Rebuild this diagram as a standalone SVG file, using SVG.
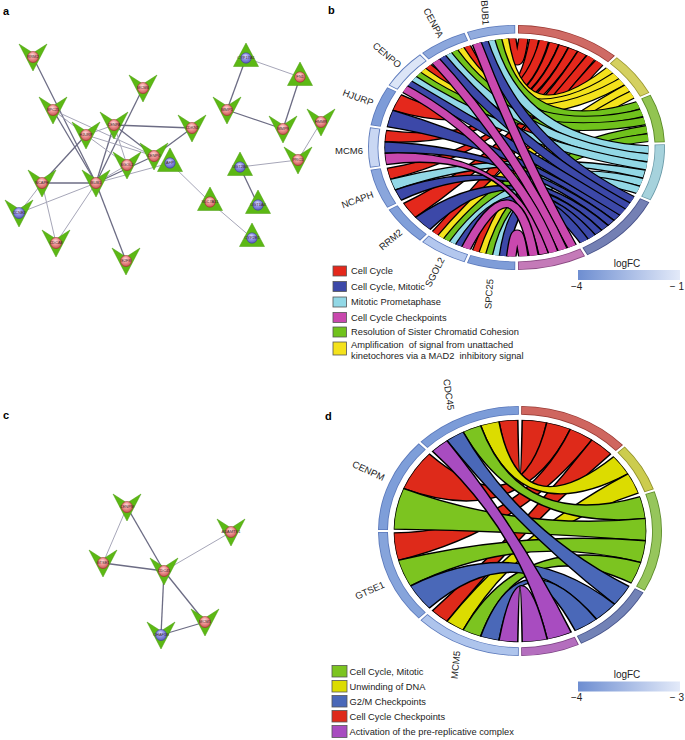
<svg xmlns="http://www.w3.org/2000/svg" width="685" height="740" viewBox="0 0 685 740">
<style>
text{font-family:"Liberation Sans",Arial,sans-serif;fill:#222}
.pl{font-weight:bold;font-size:11px;fill:#000}
.gl{font-size:9.5px}
.lg{font-size:9.3px;white-space:pre}
.tk{font-size:10px}
.nl{font-size:4px;text-anchor:middle;fill:#402828}
.e1{stroke:#6c6c84;stroke-width:1.3;fill:none}
.e2{stroke:#a6a6b8;stroke-width:1;fill:none}
.k{fill:none;stroke:#000;stroke-width:7.2}
.s{fill:none;stroke:currentColor;stroke-width:5.4}
.f{fill:currentColor;stroke:#000;stroke-width:1.1}
.ro{fill:none;stroke-width:7}
.rf{fill:none;stroke-width:5.8}
.r{color:#e4281c}.y{color:#f4e21c}.g{color:#70c21c}.c{color:#92d8e6}.b{color:#3c48a8}.m{color:#c948ae}
.dr{color:#de2a1a}.dy{color:#dcdc00}.dg{color:#7cc420}.db{color:#4a68b8}.dm{color:#a84cc0}
.sq{stroke:#555;stroke-width:0.8}
.pk{fill:url(#gp);stroke:#9b2d2d;stroke-width:0.6}
.bl{fill:url(#gb);stroke:#3e3e96;stroke-width:0.6}
</style>
<defs>
<radialGradient id="gp" cx="0.45" cy="0.35" r="0.7"><stop offset="0" stop-color="#ffe2e2"/><stop offset="0.4" stop-color="#f29a9a"/><stop offset="1" stop-color="#c44c4c"/></radialGradient>
<radialGradient id="gb" cx="0.45" cy="0.35" r="0.7"><stop offset="0" stop-color="#e4e4ff"/><stop offset="0.4" stop-color="#9494ea"/><stop offset="1" stop-color="#5656b6"/></radialGradient>
<linearGradient id="lf" x1="0" x2="1" y1="0" y2="0"><stop offset="0" stop-color="#6e8ed1"/><stop offset="1" stop-color="#e3eaf9"/></linearGradient>
<polygon id="V" points="-14,-13 0,-4 14,-13 0,14" fill="#5cb814" stroke="#4a9c0e" stroke-width="0.5"/>
<polygon id="T" points="0,-15 12.5,8.5 -12.5,8.5" fill="#5cb814" stroke="#4a9c0e" stroke-width="0.5"/>
<clipPath id="cc"><circle r="89"/></clipPath>
</defs>

<text class="pl" x="3" y="15">a</text>
<text class="pl" x="328" y="14">b</text>
<text class="pl" x="3" y="419">c</text>
<text class="pl" x="325" y="420">d</text>

<g id="connectors">
<line class="e1" x1="33" y1="57" x2="96" y2="183"/>
<line class="e1" x1="143" y1="88" x2="96" y2="183"/>
<line class="e2" x1="53" y1="110" x2="86" y2="135"/>
<line class="e1" x1="53" y1="110" x2="96" y2="183"/>
<line class="e2" x1="53" y1="110" x2="154" y2="156"/>
<line class="e2" x1="114" y1="125" x2="86" y2="135"/>
<line class="e1" x1="114" y1="125" x2="96" y2="183"/>
<line class="e1" x1="114" y1="125" x2="154" y2="156"/>
<line class="e2" x1="114" y1="125" x2="127" y2="165"/>
<line class="e1" x1="114" y1="125" x2="192" y2="128"/>
<line class="e1" x1="86" y1="135" x2="42" y2="183"/>
<line class="e2" x1="86" y1="135" x2="154" y2="156"/>
<line class="e2" x1="86" y1="135" x2="127" y2="165"/>
<line class="e1" x1="42" y1="183" x2="96" y2="183"/>
<line class="e2" x1="42" y1="183" x2="19" y2="213"/>
<line class="e2" x1="42" y1="183" x2="56" y2="243"/>
<line class="e2" x1="96" y1="183" x2="19" y2="213"/>
<line class="e2" x1="96" y1="183" x2="56" y2="243"/>
<line class="e1" x1="96" y1="183" x2="126" y2="261"/>
<line class="e1" x1="96" y1="183" x2="154" y2="156"/>
<line class="e2" x1="96" y1="183" x2="127" y2="165"/>
<line class="e2" x1="96" y1="183" x2="170" y2="163"/>
<line class="e1" x1="154" y1="156" x2="192" y2="128"/>
<line class="e2" x1="170" y1="163" x2="210" y2="202"/>
<line class="e2" x1="210" y1="202" x2="252" y2="238"/>
<line class="e2" x1="246" y1="58" x2="300" y2="77"/>
<line class="e1" x1="246" y1="58" x2="227" y2="110"/>
<line class="e1" x1="227" y1="110" x2="283" y2="129"/>
<line class="e1" x1="300" y1="77" x2="283" y2="129"/>
<line class="e2" x1="321" y1="122" x2="298" y2="160"/>
<line class="e2" x1="298" y1="160" x2="240" y2="167"/>
<line class="e1" x1="240" y1="167" x2="258" y2="205"/>
<line class="e2" x1="127" y1="507" x2="103" y2="563"/>
<line class="e1" x1="127" y1="507" x2="164" y2="571"/>
<line class="e1" x1="103" y1="563" x2="164" y2="571"/>
<line class="e2" x1="164" y1="571" x2="231" y2="532"/>
<line class="e1" x1="164" y1="571" x2="161" y2="635"/>
<line class="e1" x1="164" y1="571" x2="205" y2="622" stroke-width="2"/>
<line class="e1" x1="161" y1="635" x2="205" y2="622"/>
</g>

<g id="a-RRM2" transform="translate(33,57)"><use href="#V"/><circle r="5.5" class="pk"/><text class="nl" y="1.4">RRM2</text></g>
<g id="a-MCM6" transform="translate(143,88)"><use href="#V"/><circle r="5.5" class="pk"/><text class="nl" y="1.4">MCM6</text></g>
<g id="a-SPC25" transform="translate(53,110)"><use href="#V"/><circle r="5.5" class="pk"/><text class="nl" y="1.4">SPC25</text></g>
<g id="a-CENPA" transform="translate(114,125)"><use href="#V"/><circle r="5.5" class="pk"/><text class="nl" y="1.4">CENPA</text></g>
<g id="a-HJURP" transform="translate(86,135)"><use href="#V"/><circle r="5.5" class="pk"/><text class="nl" y="1.4">HJURP</text></g>
<g id="a-CENPO" transform="translate(154,156)"><use href="#V"/><circle r="5.5" class="pk"/><text class="nl" y="1.4">CENPO</text></g>
<g id="a-SGOL2" transform="translate(127,165)"><use href="#V"/><circle r="5.5" class="pk"/><text class="nl" y="1.4">SGOL2</text></g>
<g id="a-AFP" transform="translate(170,163)"><use href="#T"/><circle r="5.2" class="bl"/><text class="nl" y="1.4">AFP</text></g>
<g id="a-NCAPH" transform="translate(42,183)"><use href="#V"/><circle r="5.5" class="pk"/><text class="nl" y="1.4">NCAPH</text></g>
<g id="a-BUB1" transform="translate(96,183)"><use href="#V"/><circle r="5.5" class="pk"/><text class="nl" y="1.4">BUB1</text></g>
<g id="a-CCNE2" transform="translate(19,213)"><use href="#V"/><circle r="5.5" class="bl"/><text class="nl" y="1.4">CCNE2</text></g>
<g id="a-CDCA8" transform="translate(56,243)"><use href="#V"/><circle r="5.5" class="pk"/><text class="nl" y="1.4">CDCA8</text></g>
<g id="a-E2F8" transform="translate(126,261)"><use href="#V"/><circle r="5.5" class="pk"/><text class="nl" y="1.4">E2F8</text></g>
<g id="a-CYP17A1" transform="translate(246,58)"><use href="#T"/><circle r="5.2" class="bl"/><text class="nl" y="1.4">CYP17A1</text></g>
<g id="a-FN1" transform="translate(300,77)"><use href="#T"/><circle r="5.2" class="pk"/><text class="nl" y="1.4">FN1</text></g>
<g id="a-MMP1" transform="translate(227,110)"><use href="#V"/><circle r="5.5" class="pk"/><text class="nl" y="1.4">MMP1</text></g>
<g id="a-CDKN3" transform="translate(192,128)"><use href="#V"/><circle r="5.5" class="pk"/><text class="nl" y="1.4">CDKN3</text></g>
<g id="a-MMP9" transform="translate(283,129)"><use href="#V"/><circle r="5.5" class="pk"/><text class="nl" y="1.4">MMP9</text></g>
<g id="a-HMMR" transform="translate(321,122)"><use href="#V"/><circle r="5.5" class="pk"/><text class="nl" y="1.4">HMMR</text></g>
<g id="a-PRC1" transform="translate(298,160)"><use href="#V"/><circle r="5.5" class="pk"/><text class="nl" y="1.4">PRC1</text></g>
<g id="a-UGT2B4" transform="translate(240,167)"><use href="#T"/><circle r="5.2" class="bl"/><text class="nl" y="1.4">UGT2B4</text></g>
<g id="a-SLC7A11" transform="translate(210,202)"><use href="#T"/><circle r="5.2" class="pk"/><text class="nl" y="1.4">SLC7A11</text></g>
<g id="a-UGT1A4" transform="translate(258,205)"><use href="#T"/><circle r="5.2" class="bl"/><text class="nl" y="1.4">UGT1A4</text></g>
<g id="a-CYP2E1" transform="translate(252,238)"><use href="#T"/><circle r="5.2" class="bl"/><text class="nl" y="1.4">CYP2E1</text></g>

<g id="c-CENPM" transform="translate(127,507)"><use href="#V"/><circle r="5.5" class="pk"/><text class="nl" y="1.4">CENPM</text></g>
<g id="c-GTSE1" transform="translate(103,563)"><use href="#V"/><circle r="5.5" class="pk"/><text class="nl" y="1.4">GTSE1</text></g>
<g id="c-CDC45" transform="translate(164,571)"><use href="#V"/><circle r="5.5" class="pk"/><text class="nl" y="1.4">CDC45</text></g>
<g id="c-ADAMTS1" transform="translate(231,532)"><use href="#V"/><circle r="5.5" class="pk"/><text class="nl" y="1.4">ADAMTS1</text></g>
<g id="c-CHAF1B" transform="translate(161,635)"><use href="#V"/><circle r="5.5" class="bl"/><text class="nl" y="1.4">CHAF1B</text></g>
<g id="c-MCM5" transform="translate(205,622)"><use href="#V"/><circle r="5.5" class="pk"/><text class="nl" y="1.4">MCM5</text></g>

<g id="chord-b" transform="translate(516.5,147.5) scale(1.485,1.225)">
<g id="ring-b">
<circle r="96.5" class="ro" stroke="#9a3a34" stroke-dasharray="68.89 999" transform="rotate(-89.4)"/>
<circle r="96.5" class="rf" stroke="#cf6a64" stroke-dasharray="67.71 999" transform="rotate(-89.05)"/>
<circle r="96.5" class="ro" stroke="#9a9630" stroke-dasharray="35.37 999" transform="rotate(-47.5)"/>
<circle r="96.5" class="rf" stroke="#d4d060" stroke-dasharray="34.19 999" transform="rotate(-47.15)"/>
<circle r="96.5" class="ro" stroke="#5a8a26" stroke-dasharray="38.74 999" transform="rotate(-25.5)"/>
<circle r="96.5" class="rf" stroke="#92c452" stroke-dasharray="37.56 999" transform="rotate(-25.15)"/>
<circle r="96.5" class="ro" stroke="#6a9aa8" stroke-dasharray="45.48 999" transform="rotate(-1.5)"/>
<circle r="96.5" class="rf" stroke="#a6d2dc" stroke-dasharray="44.3 999" transform="rotate(-1.15)"/>
<circle r="96.5" class="ro" stroke="#48528a" stroke-dasharray="58.95 999" transform="rotate(26.5)"/>
<circle r="96.5" class="rf" stroke="#7480b4" stroke-dasharray="57.77 999" transform="rotate(26.85)"/>
<circle r="96.5" class="ro" stroke="#8a4a82" stroke-dasharray="45.31 999" transform="rotate(62.5)"/>
<circle r="96.5" class="rf" stroke="#c47ab8" stroke-dasharray="44.13 999" transform="rotate(62.85)"/>
<g stroke-dasharray="32 999" class="ro" stroke="#5b79bb">
<circle r="96.5" transform="rotate(90.5)"/><circle r="96.5" transform="rotate(110.5)"/><circle r="96.5" transform="rotate(130.5)"/><circle r="96.5" transform="rotate(150.5)"/><circle r="96.5" transform="rotate(170.5)"/><circle r="96.5" transform="rotate(190.5)"/><circle r="96.5" transform="rotate(210.5)"/><circle r="96.5" transform="rotate(230.5)"/><circle r="96.5" transform="rotate(250.5)"/>
</g>
<g stroke-dasharray="30.82 999" class="rf">
<circle r="96.5" stroke="#7f9dd8" transform="rotate(90.85)"/>
<circle r="96.5" stroke="#b3c7ee" transform="rotate(110.85)"/>
<circle r="96.5" stroke="#819fd9" transform="rotate(130.85)"/>
<circle r="96.5" stroke="#8aa6dc" transform="rotate(150.85)"/>
<circle r="96.5" stroke="#c9d7f3" transform="rotate(170.85)"/>
<circle r="96.5" stroke="#7e9cd8" transform="rotate(190.85)"/>
<circle r="96.5" stroke="#dce5f7" transform="rotate(210.85)"/>
<circle r="96.5" stroke="#8ca7dc" transform="rotate(230.85)"/>
<circle r="96.5" stroke="#92acde" transform="rotate(250.85)"/>
</g>
</g>
<g clip-path="url(#cc)">
<path class="f r" d="M-83.63 -30.44A89 89 0 0 1 -77.84 -43.15Q0 0 22.13 -86.21A89 89 0 0 1 28.68 -84.25Q0 0 -83.63 -30.44Z"/>
<path class="f r" d="M-88.88 -4.66A89 89 0 0 1 -87.9 -13.92Q0 0 28.68 -84.25A89 89 0 0 1 35.06 -81.8Q0 0 -88.88 -4.66Z"/>
<path class="f r" d="M-85.11 26.02A89 89 0 0 1 -87.36 16.98Q0 0 35.06 -81.8A89 89 0 0 1 41.37 -78.8Q0 0 -85.11 26.02Z"/>
<path class="f r" d="M-68.17 57.21A89 89 0 0 1 -76.29 45.84Q0 0 41.37 -78.8A89 89 0 0 1 47.29 -75.39Q0 0 -68.17 57.21Z"/>
<g transform="rotate(0.35)"><path class="k" d="M-4.77 -95.88Q0 -45 4.77 -95.88"/><path class="s r" d="M-4.77 -95.88Q0 -45 4.77 -95.88"/></g>
<g transform="rotate(-7.4)"><path class="k" d="M-25.01 -92.69Q0 0 25.01 -92.69"/><path class="s r" d="M-25.01 -92.69Q0 0 25.01 -92.69"/></g>
<g transform="rotate(-15.2)"><path class="k" d="M-44.03 -85.31Q0 0 44.03 -85.31"/><path class="s r" d="M-44.03 -85.31Q0 0 44.03 -85.31"/></g>
<g transform="rotate(305.9)"><path class="k" d="M-95.96 -2.68Q0 0 95.96 -2.68"/><path class="s r" d="M-95.96 -2.68Q0 0 95.96 -2.68"/></g>
<g transform="rotate(118.15)"><path class="k" d="M-94.35 -17.74Q0 0 94.35 -17.74"/><path class="s r" d="M-94.35 -17.74Q0 0 94.35 -17.74"/></g>

<g transform="rotate(19.75)"><path class="k" d="M-40.95 -86.83Q0 0 40.95 -86.83"/><path class="s y" d="M-40.95 -86.83Q0 0 40.95 -86.83"/></g>
<g transform="rotate(11.75)"><path class="k" d="M-58.11 -76.42Q0 0 58.11 -76.42"/><path class="s y" d="M-58.11 -76.42Q0 0 58.11 -76.42"/></g>
<g transform="rotate(3.75)"><path class="k" d="M-72.73 -62.66Q0 0 72.73 -62.66"/><path class="s y" d="M-72.73 -62.66Q0 0 72.73 -62.66"/></g>
<g transform="rotate(135.75)"><path class="k" d="M-94.16 -18.73Q0 0 94.16 -18.73"/><path class="s y" d="M-94.16 -18.73Q0 0 94.16 -18.73"/></g>
<g transform="rotate(127.75)"><path class="k" d="M-88.21 -37.89Q0 0 88.21 -37.89"/><path class="s y" d="M-88.21 -37.89Q0 0 88.21 -37.89"/></g>

<g transform="rotate(29.35)"><path class="k" d="M-58.92 -75.8Q0 0 58.92 -75.8"/><path class="s g" d="M-58.92 -75.8Q0 0 58.92 -75.8"/></g>
<g transform="rotate(21.55)"><path class="k" d="M-73.59 -61.64Q0 0 73.59 -61.64"/><path class="s g" d="M-73.59 -61.64Q0 0 73.59 -61.64"/></g>
<g transform="rotate(13.75)"><path class="k" d="M-84.96 -44.7Q0 0 84.96 -44.7"/><path class="s g" d="M-84.96 -44.7Q0 0 84.96 -44.7"/></g>
<g transform="rotate(145.95)"><path class="k" d="M-87.39 -39.74Q0 0 87.39 -39.74"/><path class="s g" d="M-87.39 -39.74Q0 0 87.39 -39.74"/></g>
<g transform="rotate(138.15)"><path class="k" d="M-77.03 -57.29Q0 0 77.03 -57.29"/><path class="s g" d="M-77.03 -57.29Q0 0 77.03 -57.29"/></g>

<path class="f c" d="M-81.92 34.77A89 89 0 0 1 -85.11 26.02Q0 0 87.05 18.5A89 89 0 0 1 85.42 24.98Q0 0 -81.92 34.77Z"/>
<g transform="rotate(39.85)"><path class="k" d="M-74.96 -59.98Q0 0 74.96 -59.98"/><path class="s c" d="M-74.96 -59.98Q0 0 74.96 -59.98"/></g>
<g transform="rotate(32)"><path class="k" d="M-85.91 -42.84Q0 0 85.91 -42.84"/><path class="s c" d="M-85.91 -42.84Q0 0 85.91 -42.84"/></g>
<g transform="rotate(24.15)"><path class="k" d="M-93 -23.8Q0 0 93 -23.8"/><path class="s c" d="M-93 -23.8Q0 0 93 -23.8"/></g>
<g transform="rotate(158.5)"><path class="k" d="M-73.54 -61.71Q0 0 73.54 -61.71"/><path class="s c" d="M-73.54 -61.71Q0 0 73.54 -61.71"/></g>
<g transform="rotate(150.65)"><path class="k" d="M-58.92 -75.8Q0 0 58.92 -75.8"/><path class="s c" d="M-58.92 -75.8Q0 0 58.92 -75.8"/></g>

<path class="f b" d="M-87.36 -16.98A89 89 0 0 1 -83.63 -30.44Q0 0 69.85 55.16A89 89 0 0 1 65.97 59.75Q0 0 -87.36 -16.98Z"/>
<path class="f b" d="M-88.88 4.66A89 89 0 0 1 -88.88 -4.66Q0 0 65.97 59.75A89 89 0 0 1 61.97 63.88Q0 0 -88.88 4.66Z"/>
<path class="f b" d="M-77.84 43.15A89 89 0 0 1 -81.92 34.77Q0 0 61.97 63.88A89 89 0 0 1 57.57 67.88Q0 0 -77.84 43.15Z"/>
<path class="f b" d="M-58.39 67.17A89 89 0 0 1 -68.17 57.21Q0 0 57.57 67.88A89 89 0 0 1 53.06 71.45Q0 0 -58.39 67.17Z"/>
<g transform="rotate(52.2)"><path class="k" d="M-88.17 -37.97Q0 0 88.17 -37.97"/><path class="s b" d="M-88.17 -37.97Q0 0 88.17 -37.97"/></g>
<g transform="rotate(44.1)"><path class="k" d="M-94.11 -18.98Q0 0 94.11 -18.98"/><path class="s b" d="M-94.11 -18.98Q0 0 94.11 -18.98"/></g>
<g transform="rotate(215.95)"><path class="k" d="M-96 -0.75Q0 0 96 -0.75"/><path class="s b" d="M-96 -0.75Q0 0 96 -0.75"/></g>
<g transform="rotate(175.4)"><path class="k" d="M-48.14 -83.06Q0 0 48.14 -83.06"/><path class="s b" d="M-48.14 -83.06Q0 0 48.14 -83.06"/></g>
<g transform="rotate(167.3)"><path class="k" d="M-29.98 -91.2Q0 0 29.98 -91.2"/><path class="s b" d="M-29.98 -91.2Q0 0 29.98 -91.2"/></g>

<path class="f m" d="M-87.9 13.92A89 89 0 0 1 -88.88 4.66Q0 0 21.53 86.36A89 89 0 0 1 15 87.73Q0 0 -87.9 13.92Z"/>
<g transform="rotate(68.85)"><path class="k" d="M-95.81 -6.11Q0 0 95.81 -6.11"/><path class="s m" d="M-95.81 -6.11Q0 0 95.81 -6.11"/></g>
<g transform="rotate(241)"><path class="k" d="M-94.94 -14.19Q0 0 94.94 -14.19"/><path class="s m" d="M-94.94 -14.19Q0 0 94.94 -14.19"/></g>
<g transform="rotate(233.15)"><path class="k" d="M-89.84 -33.86Q0 0 89.84 -33.86"/><path class="s m" d="M-89.84 -33.86Q0 0 89.84 -33.86"/></g>
<g transform="rotate(187.5)"><path class="k" d="M-24.85 -92.73Q0 0 24.85 -92.73"/><path class="s m" d="M-24.85 -92.73Q0 0 24.85 -92.73"/></g>
<g transform="rotate(179.65)"><path class="k" d="M-4.77 -95.88Q0 -45 4.77 -95.88"/><path class="s m" d="M-4.77 -95.88Q0 -45 4.77 -95.88"/></g>
</g>
</g>

<g id="labels-b" class="gl">
<text class="gl" text-anchor="end" dy="0.35em" transform="translate(486,25) rotate(86)">BUB1</text>
<text class="gl" text-anchor="end" dy="0.35em" transform="translate(441,37) rotate(62)">CENPA</text>
<text class="gl" text-anchor="end" dy="0.35em" transform="translate(400,66) rotate(40)">CENPO</text>
<text class="gl" text-anchor="end" dy="0.35em" transform="translate(373,103) rotate(20)">HJURP</text>
<text class="gl" text-anchor="end" dy="0.35em" transform="translate(363,151)">MCM6</text>
<text class="gl" text-anchor="end" dy="0.35em" transform="translate(373,194) rotate(-20)">NCAPH</text>
<text class="gl" text-anchor="end" dy="0.35em" transform="translate(401,231) rotate(-40)">RRM2</text>
<text class="gl" text-anchor="end" dy="0.35em" transform="translate(442,258) rotate(-63)">SGOL2</text>
<text class="gl" text-anchor="end" dy="0.35em" transform="translate(490,279) rotate(-86)">SPC25</text>
</g>

<g id="legend-b">
<rect class="sq" x="333" y="266" width="13.5" height="10" fill="#e4281c"/><text class="lg" x="351" y="274">Cell Cycle</text>
<rect class="sq" x="333" y="281.5" width="13.5" height="10" fill="#3c48a8"/><text class="lg" x="351" y="289.5">Cell Cycle, Mitotic</text>
<rect class="sq" x="333" y="297" width="13.5" height="10" fill="#92d8e6"/><text class="lg" x="351" y="305">Mitotic Prometaphase</text>
<rect class="sq" x="333" y="312.5" width="13.5" height="10" fill="#c948ae"/><text class="lg" x="351" y="320.5">Cell Cycle Checkpoints</text>
<rect class="sq" x="333" y="327" width="13.5" height="10" fill="#70c21c"/><text class="lg" x="351" y="335">Resolution of Sister Chromatid Cohesion</text>
<rect class="sq" x="333" y="342" width="13.5" height="13" fill="#f4e21c"/><text class="lg" x="351" y="348">Amplification  of signal from unattached</text><text class="lg" x="351" y="359">kinetochores via a MAD2  inhibitory signal</text>
<text class="tk" x="627" y="267" text-anchor="middle">logFC</text>
<rect x="578" y="270" width="102" height="10" fill="url(#lf)"/>
<text class="tk" x="571" y="290">−4</text>
<text class="tk" x="684" y="290" text-anchor="end">− 1</text>
</g>

<g id="chord-d" transform="translate(520,531) scale(1.42,1.25)">
<g id="ring-d">
<circle r="96.5" class="ro" stroke="#963a34" stroke-dasharray="77.48 999" transform="rotate(-89.5)"/>
<circle r="96.5" class="rf" stroke="#cf665f" stroke-dasharray="76.3 999" transform="rotate(-89.15)"/>
<circle r="96.5" class="ro" stroke="#8e8e2a" stroke-dasharray="38.74 999" transform="rotate(-42.5)"/>
<circle r="96.5" class="rf" stroke="#cccc4e" stroke-dasharray="37.56 999" transform="rotate(-42.15)"/>
<circle r="96.5" class="ro" stroke="#5e8c2c" stroke-dasharray="79.16 999" transform="rotate(-18.5)"/>
<circle r="96.5" class="rf" stroke="#96c65c" stroke-dasharray="77.98 999" transform="rotate(-18.15)"/>
<circle r="96.5" class="ro" stroke="#46528a" stroke-dasharray="58.95 999" transform="rotate(29.5)"/>
<circle r="96.5" class="rf" stroke="#7282b6" stroke-dasharray="57.77 999" transform="rotate(29.85)"/>
<circle r="96.5" class="ro" stroke="#7a4282" stroke-dasharray="40.42 999" transform="rotate(65.5)"/>
<circle r="96.5" class="rf" stroke="#b46ebe" stroke-dasharray="39.24 999" transform="rotate(65.85)"/>
<g stroke-dasharray="74.11 999" class="ro" stroke="#5b79bb">
<circle r="96.5" transform="rotate(90.5)"/><circle r="96.5" transform="rotate(135.5)"/><circle r="96.5" transform="rotate(180.5)"/><circle r="96.5" transform="rotate(225.5)"/>
</g>
<g stroke-dasharray="72.93 999" class="rf">
<circle r="96.5" stroke="#aec4ec" transform="rotate(90.85)"/>
<circle r="96.5" stroke="#86a4db" transform="rotate(135.85)"/>
<circle r="96.5" stroke="#7e9ed9" transform="rotate(180.85)"/>
<circle r="96.5" stroke="#7c9cd8" transform="rotate(225.85)"/>
</g>
</g>
<g clip-path="url(#cc)">
<path class="f dr" d="M-14.84 -87.75A89 89 0 0 1 -1.55 -88.99Q0 0 1.55 -88.99A89 89 0 0 1 18.89 -86.97Q0 0 -14.84 -87.75Z"/>
<path class="f dr" d="M-82.22 -34.06A89 89 0 0 1 -64.02 -61.83Q0 0 18.89 -86.97A89 89 0 0 1 35.49 -81.62Q0 0 -82.22 -34.06Z"/>
<path class="f dr" d="M-85.83 23.53A89 89 0 0 1 -88.99 1.55Q0 0 35.49 -81.62A89 89 0 0 1 50.73 -73.12Q0 0 -85.83 23.53Z"/>
<path class="f dr" d="M-51.56 72.54A89 89 0 0 1 -61.83 64.02Q0 0 50.73 -73.12A89 89 0 0 1 64.02 -61.83Q0 0 -51.56 72.54Z"/>
<path class="f dy" d="M-27.8 -84.55A89 89 0 0 1 -14.84 -87.75Q0 0 66.14 -59.55A89 89 0 0 1 76.29 -45.84Q0 0 -27.8 -84.55Z"/>
<path class="f dy" d="M-40.13 79.44A89 89 0 0 1 -51.56 72.54Q0 0 76.29 -45.84A89 89 0 0 1 83.63 -30.44Q0 0 -40.13 79.44Z"/>
<path class="f dg" d="M-40.13 -79.44A89 89 0 0 1 -27.8 -84.55Q0 0 84.65 -27.5A89 89 0 0 1 88.43 -10.07Q0 0 -40.13 -79.44Z"/>
<path class="f dg" d="M-88.99 -1.55A89 89 0 0 1 -82.22 -34.06Q0 0 88.43 -10.07A89 89 0 0 1 88.66 7.76Q0 0 -88.99 -1.55Z"/>
<path class="f dg" d="M-77.33 44.06A89 89 0 0 1 -85.83 23.53Q0 0 88.66 7.76A89 89 0 0 1 85.33 25.28Q0 0 -77.33 44.06Z"/>
<path class="f dg" d="M-27.8 84.55A89 89 0 0 1 -40.13 79.44Q0 0 85.33 25.28A89 89 0 0 1 78.58 41.79Q0 0 -27.8 84.55Z"/>
<path class="f db" d="M-51.56 -72.54A89 89 0 0 1 -40.13 -79.44Q0 0 77.08 44.5A89 89 0 0 1 66.83 58.78Q0 0 -51.56 -72.54Z"/>
<path class="f db" d="M-64.02 61.83A89 89 0 0 1 -77.33 44.06Q0 0 66.83 58.78A89 89 0 0 1 53.96 70.77Q0 0 -64.02 61.83Z"/>
<path class="f db" d="M-14.84 87.75A89 89 0 0 1 -27.8 84.55Q0 0 53.96 70.77A89 89 0 0 1 39.02 79.99Q0 0 -14.84 87.75Z"/>
<path class="f dm" d="M-61.83 -64.02A89 89 0 0 1 -51.56 -72.54Q0 0 36.2 81.3A89 89 0 0 1 19.26 86.89Q0 0 -61.83 -64.02Z"/>
<path class="f dm" d="M-1.55 88.99A89 89 0 0 1 -14.84 87.75Q0 0 19.26 86.89A89 89 0 0 1 1.55 88.99Q0 0 -1.55 88.99Z"/>
</g>
</g>

<g id="labels-d">
<text class="gl" text-anchor="end" dy="0.35em" transform="translate(451,410) rotate(82)">CDC45</text>
<text class="gl" text-anchor="end" dy="0.35em" transform="translate(384,478) rotate(25)">CENPM</text>
<text class="gl" text-anchor="end" dy="0.35em" transform="translate(384,584) rotate(-24)">GTSE1</text>
<text class="gl" text-anchor="end" dy="0.35em" transform="translate(457,651) rotate(-84)">MCM5</text>
</g>

<g id="legend-d">
<rect class="sq" x="332" y="665.5" width="15" height="11.5" fill="#7cc420"/><text class="lg" x="349.5" y="674.5">Cell Cycle, Mitotic</text>
<rect class="sq" x="332" y="680.5" width="15" height="11.5" fill="#dcdc00"/><text class="lg" x="349.5" y="689.5">Unwinding of DNA</text>
<rect class="sq" x="332" y="695.5" width="15" height="11.5" fill="#4a68b8"/><text class="lg" x="349.5" y="704.5">G2/M Checkpoints</text>
<rect class="sq" x="332" y="710.5" width="15" height="11.5" fill="#de2a1a"/><text class="lg" x="349.5" y="719.5">Cell Cycle Checkpoints</text>
<rect class="sq" x="332" y="725.5" width="15" height="12" fill="#a84cc0"/><text class="lg" x="349.5" y="735">Activation of the pre-replicative complex</text>
<text class="tk" x="627" y="678" text-anchor="middle">logFC</text>
<rect x="578" y="681.5" width="102" height="10" fill="url(#lf)"/>
<text class="tk" x="571" y="701">−4</text>
<text class="tk" x="684" y="701" text-anchor="end">− 3</text>
</g>
</svg>
